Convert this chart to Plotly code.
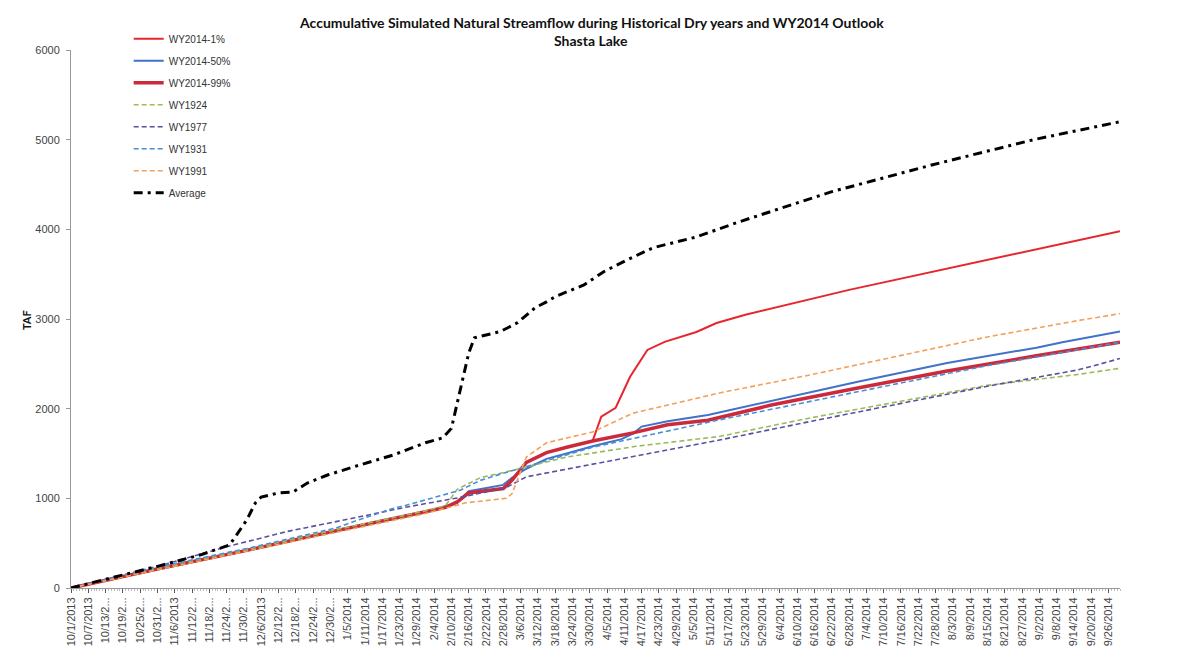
import plotly.graph_objects as go

# ---------------- data ----------------
avg_dates = ["2013-10-01", "2013-10-15", "2013-11-01", "2013-11-15", "2013-11-25", "2013-11-27",
             "2013-12-01", "2013-12-04", "2013-12-06", "2013-12-12", "2013-12-17", "2013-12-22",
             "2013-12-29", "2014-01-09", "2014-01-21", "2014-02-01", "2014-02-07", "2014-02-10",
             "2014-02-12", "2014-02-14", "2014-02-16", "2014-02-18", "2014-02-27", "2014-03-05",
             "2014-03-11", "2014-03-15", "2014-03-18", "2014-03-28", "2014-04-04", "2014-04-12",
             "2014-04-21", "2014-05-06", "2014-05-21", "2014-06-22", "2014-07-27", "2014-08-31",
             "2014-09-30"]
avg_vals = [0, 110, 250, 370, 480, 570,
            760, 950, 1015, 1060, 1070, 1170,
            1260, 1370, 1485, 1620, 1675, 1780,
            2060, 2350, 2620, 2790, 2860, 2960,
            3125, 3190, 3250, 3380, 3530, 3660,
            3795, 3915, 4085, 4420, 4720, 5000,
            5200]

p99_dates = ["2013-10-01", "2013-11-01", "2013-12-01", "2014-01-01", "2014-02-01", "2014-02-08",
             "2014-02-12", "2014-02-16", "2014-02-28", "2014-03-03", "2014-03-08", "2014-03-15",
             "2014-03-22", "2014-03-31", "2014-04-14", "2014-04-26", "2014-05-10", "2014-06-01",
             "2014-07-01", "2014-08-01", "2014-09-01", "2014-09-30"]
p99_vals = [0, 220, 420, 640, 850, 900,
            960, 1060, 1110, 1200, 1400, 1510,
            1570, 1640, 1730, 1820, 1870, 2040,
            2230, 2420, 2590, 2740]

p1_dates = p99_dates[:14] + ["2014-04-03", "2014-04-08", "2014-04-13", "2014-04-19", "2014-04-25",
                             "2014-05-06", "2014-05-13", "2014-05-23", "2014-06-28", "2014-09-30"]
p1_vals = p99_vals[:14] + [1910, 2010, 2355, 2655, 2745, 2855, 2955, 3047, 3325, 3980]

p50_dates = ["2013-10-01", "2013-11-01", "2013-12-01", "2014-01-01", "2014-02-01", "2014-02-12",
             "2014-02-16", "2014-02-28", "2014-03-03", "2014-03-08", "2014-03-15", "2014-03-22",
             "2014-03-31", "2014-04-10", "2014-04-14", "2014-04-17", "2014-04-26", "2014-05-10",
             "2014-06-01", "2014-07-01", "2014-08-01", "2014-09-01", "2014-09-10", "2014-09-30"]
p50_vals = [0, 215, 415, 635, 845, 950,
            1080, 1150, 1230, 1330, 1440, 1500,
            1580, 1660, 1720, 1800, 1860, 1930,
            2090, 2300, 2510, 2680, 2740, 2860]

y1924_dates = ["2013-10-01", "2013-11-01", "2013-12-01", "2014-01-01", "2014-02-01", "2014-02-08",
               "2014-02-12", "2014-02-20", "2014-02-27", "2014-03-22", "2014-04-15", "2014-05-14",
               "2014-06-15", "2014-07-15", "2014-08-15", "2014-09-15", "2014-09-30"]
y1924_vals = [0, 230, 430, 650, 860, 920,
              1100, 1230, 1280, 1460, 1580, 1690,
              1900, 2080, 2260, 2380, 2450]

y1977_dates = ["2013-10-01", "2013-11-01", "2013-11-24", "2013-12-15", "2014-01-07", "2014-01-25",
               "2014-02-13", "2014-03-01", "2014-03-08", "2014-04-02", "2014-05-14", "2014-06-15",
               "2014-07-15", "2014-08-15", "2014-09-15", "2014-09-20", "2014-09-30"]
y1977_vals = [0, 250, 460, 630, 780, 900,
              1010, 1120, 1240, 1395, 1650, 1860,
              2050, 2250, 2430, 2470, 2560]

y1931_dates = ["2013-10-01", "2013-11-01", "2013-12-01", "2014-01-01", "2014-01-07", "2014-01-20",
               "2014-01-25", "2014-02-13", "2014-02-20", "2014-02-27", "2014-03-15", "2014-03-31",
               "2014-05-14", "2014-06-15", "2014-07-15", "2014-08-15", "2014-09-15", "2014-09-30"]
y1931_vals = [0, 240, 440, 670, 740, 880,
              920, 1090, 1200, 1270, 1420, 1570,
              1875, 2080, 2280, 2480, 2650, 2740]

y1991_dates = ["2013-10-01", "2013-11-01", "2013-12-01", "2014-01-01", "2014-02-01", "2014-02-15",
               "2014-03-01", "2014-03-03", "2014-03-08", "2014-03-15", "2014-03-31", "2014-04-14",
               "2014-05-14", "2014-06-15", "2014-07-15", "2014-08-15", "2014-09-15", "2014-09-30"]
y1991_vals = [0, 210, 410, 620, 830, 950,
              1000, 1050, 1460, 1620, 1740, 1950,
              2175, 2380, 2590, 2800, 2980, 3060]

tick_dates = ["2013-10-01", "2013-10-07", "2013-10-13", "2013-10-19", "2013-10-25", "2013-10-31",
              "2013-11-06", "2013-11-12", "2013-11-18", "2013-11-24", "2013-11-30", "2013-12-06",
              "2013-12-12", "2013-12-18", "2013-12-24", "2013-12-30", "2014-01-05", "2014-01-11",
              "2014-01-17", "2014-01-23", "2014-01-29", "2014-02-04", "2014-02-10", "2014-02-16",
              "2014-02-22", "2014-02-28", "2014-03-06", "2014-03-12", "2014-03-18", "2014-03-24",
              "2014-03-30", "2014-04-05", "2014-04-11", "2014-04-17", "2014-04-23", "2014-04-29",
              "2014-05-05", "2014-05-11", "2014-05-17", "2014-05-23", "2014-05-29", "2014-06-04",
              "2014-06-10", "2014-06-16", "2014-06-22", "2014-06-28", "2014-07-04", "2014-07-10",
              "2014-07-16", "2014-07-22", "2014-07-28", "2014-08-03", "2014-08-09", "2014-08-15",
              "2014-08-21", "2014-08-27", "2014-09-02", "2014-09-08", "2014-09-14", "2014-09-20",
              "2014-09-26"]
tick_text = ["10/1/2013", "10/7/2013", "10/13/2...", "10/19/2...", "10/25/2...", "10/31/2...",
             "11/6/2013", "11/12/2...", "11/18/2...", "11/24/2...", "11/30/2...", "12/6/2013",
             "12/12/2...", "12/18/2...", "12/24/2...", "12/30/2...", "1/5/2014", "1/11/2014",
             "1/17/2014", "1/23/2014", "1/29/2014", "2/4/2014", "2/10/2014", "2/16/2014",
             "2/22/2014", "2/28/2014", "3/6/2014", "3/12/2014", "3/18/2014", "3/24/2014",
             "3/30/2014", "4/5/2014", "4/11/2014", "4/17/2014", "4/23/2014", "4/29/2014",
             "5/5/2014", "5/11/2014", "5/17/2014", "5/23/2014", "5/29/2014", "6/4/2014",
             "6/10/2014", "6/16/2014", "6/22/2014", "6/28/2014", "7/4/2014", "7/10/2014",
             "7/16/2014", "7/22/2014", "7/28/2014", "8/3/2014", "8/9/2014", "8/15/2014",
             "8/21/2014", "8/27/2014", "9/2/2014", "9/8/2014", "9/14/2014", "9/20/2014",
             "9/26/2014"]
y_ticks = [0, 1000, 2000, 3000, 4000, 5000, 6000]

# ---------------- figure ----------------
series = [
    ("WY2014-1%", p1_dates, p1_vals, "#E6262E", 2.0, "solid"),
    ("WY2014-50%", p50_dates, p50_vals, "#3F72C8", 2.0, "solid"),
    ("WY2014-99%", p99_dates, p99_vals, "#CC2A3A", 3.5, "solid"),
    ("WY1924", y1924_dates, y1924_vals, "#9BBB59", 1.6, "5px,3px"),
    ("WY1977", y1977_dates, y1977_vals, "#5A4FA0", 1.6, "5px,3px"),
    ("WY1931", y1931_dates, y1931_vals, "#4A8FD6", 1.6, "5px,3px"),
    ("WY1991", y1991_dates, y1991_vals, "#F2A05A", 1.6, "5px,3px"),
    ("Average", avg_dates, avg_vals, "#000000", 3.0, "9px,5px,3px,5px"),
]

fig = go.Figure()
for i, (name, xs, ys, col, w, dash) in enumerate(series):
    fig.add_trace(go.Scatter(x=xs, y=ys, name=name, mode="lines",
                             legendgroup=f"g{i}",
                             line=dict(color=col, width=w, dash=dash)))

W, H = 1170, 646
L, R, T, B = 63, 58, 42, 66
PH = H - T - B
PW = W - L - R
fig.update_layout(
    width=W, height=H,
    margin=dict(l=L, r=R, t=T, b=B, autoexpand=False),
    paper_bgcolor="white", plot_bgcolor="white",
    font=dict(family="Liberation Sans, Arial, sans-serif", size=10, color="#333333"),
    showlegend=True,
    legend=dict(x=0.055, y=1.048, xanchor="left", yanchor="top",
                bgcolor="rgba(0,0,0,0)", tracegroupgap=3, itemwidth=30,
                font=dict(family="Liberation Sans, Arial, sans-serif", size=10, color="#333333")),
    xaxis=dict(type="date", range=["2013-10-01", "2014-09-30"],
               tickmode="array", tickvals=tick_dates, ticktext=tick_text,
               tickangle=-90, ticks="outside", ticklen=4, tickcolor="#555555",
               tickfont=dict(family="Liberation Sans, Arial, sans-serif", size=11, color="#444444"),
               showgrid=False, zeroline=False, showline=True, linecolor="#999999", linewidth=1,
               minor=dict(dtick=86400000, ticks="outside", ticklen=2, tickcolor="#bbbbbb"),
               automargin=False),
    yaxis=dict(range=[0, 6000], tickmode="array", tickvals=y_ticks,
               ticks="outside", ticklen=4, tickcolor="#999999", ticklabelstandoff=4,
               tickfont=dict(family="Liberation Sans, Arial, sans-serif", size=11, color="#444444"),
               showgrid=False, zeroline=False, showline=True, linecolor="#999999", linewidth=1,
               automargin=False),
    annotations=[
        dict(text="<b>Accumulative Simulated Natural Streamflow during Historical Dry years and WY2014 Outlook</b>",
             x=(583 - L) / PW, y=1 + (T - 14) / PH, xref="paper", yref="paper", showarrow=False,
             xanchor="center", yanchor="middle",
             font=dict(family="Lato, Open Sans, sans-serif", size=14, color="#111111")),
        dict(text="<b>Shasta Lake</b>",
             x=(583 - L) / PW, y=1 + (T - 32) / PH, xref="paper", yref="paper", showarrow=False,
             xanchor="center", yanchor="middle",
             font=dict(family="Lato, Open Sans, sans-serif", size=14, color="#111111")),
        dict(text="<b>TAF</b>", x=(18 - L) / PW, y=(580 - 312) / PH, xref="paper", yref="paper",
             showarrow=False, textangle=-90, xanchor="center", yanchor="middle",
             font=dict(family="Lato, Open Sans, sans-serif", size=11, color="#111111")),
    ],
)

fig.write_html("out.html")
